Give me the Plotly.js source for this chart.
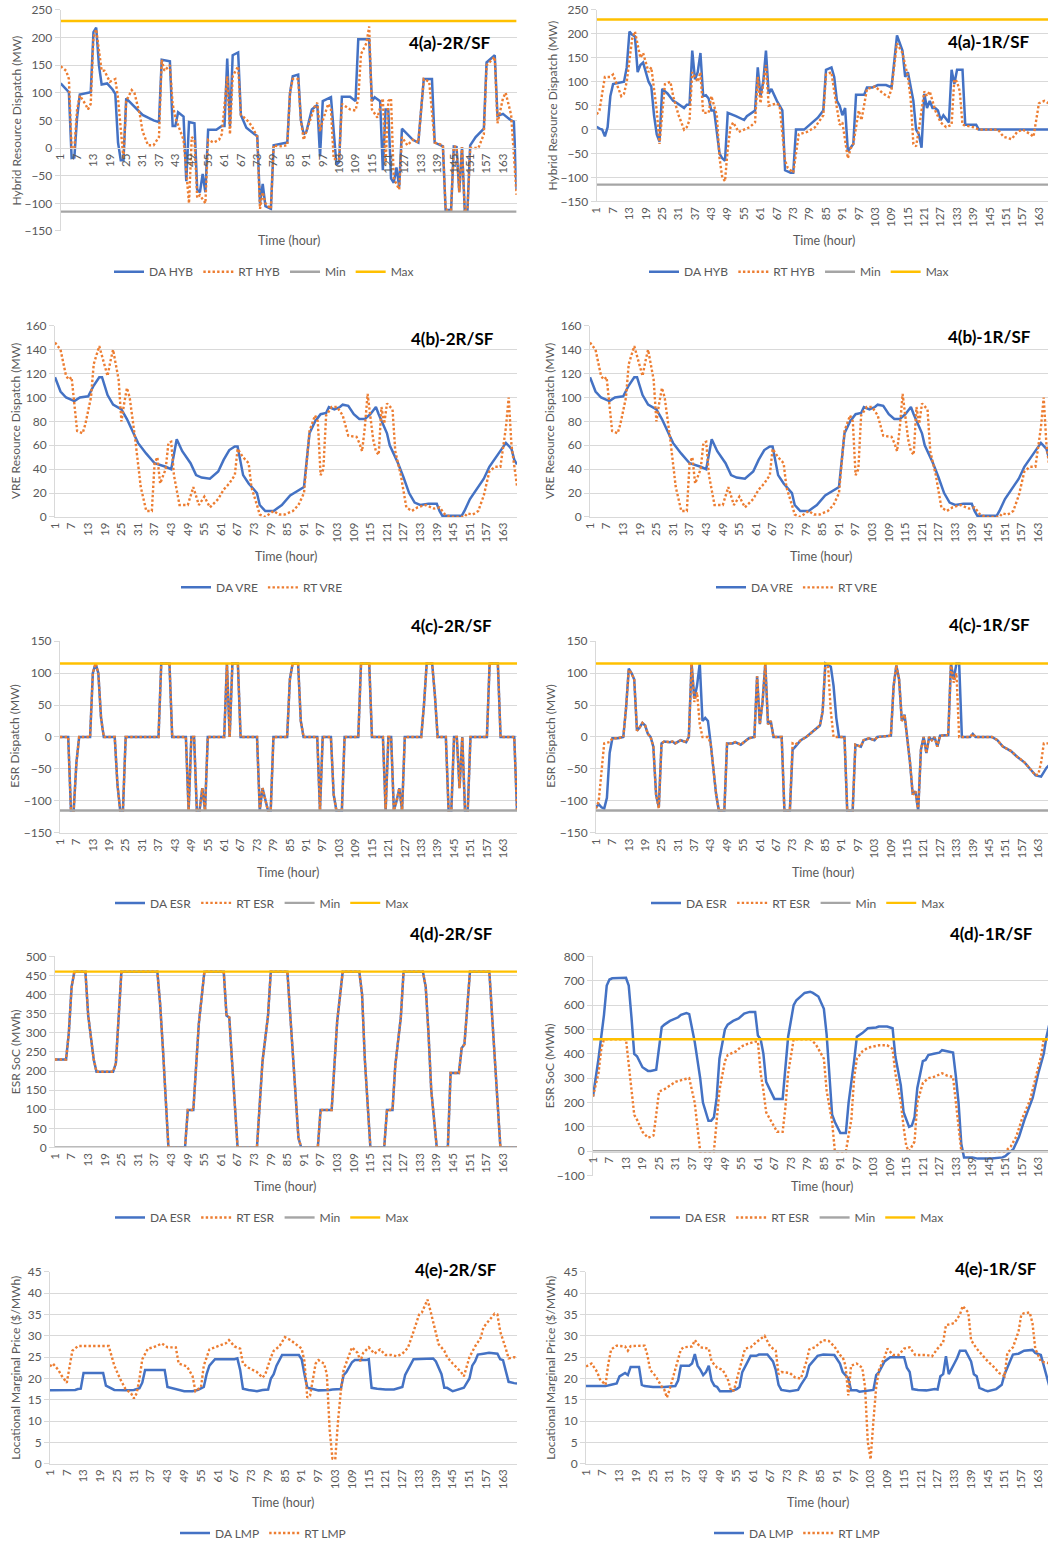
<!DOCTYPE html>
<html>
<head>
<meta charset="utf-8">
<script src="https://cdn.plot.ly/plotly-3.0.1.min.js"></script>
<style>
  html, body { margin: 0; padding: 0; overflow: hidden; background: #ffffff; }
  #chart { width: 1060px; height: 1548px; }
</style>
</head>
<body>
<div id="chart"></div>
<script>
// Hourly dispatch results over one week (hours 1..168), [hour, value] pairs.
const hourTicks = [1,7,13,19,25,31,37,43,49,55,61,67,73,79,85,91,97,103,109,115,121,127,133,139,145,151,157,163];

// Resource limits
const hybMin = -115, hybMax = 230;
const esrMin = -115, esrMax = 115;
const socMin = 0, socMax = 460;

// (a) Hybrid resource dispatch (MW)
const daHyb2R = [[1,117],[4,101],[5,-18],[6,-17],[7,55],[8,97],[12,101],[13,210],[14,218],[15,150],[16,115],[18,117],[20,106],[21,98],[22,10],[23,-22],[24,-22],[25,90],[31,60],[35,50],[37,47],[38,160],[41,157],[42,40],[43,40],[44,65],[46,57],[47,-60],[48,47],[50,45],[51,-75],[52,-80],[53,-47],[54,-80],[55,33],[58,33],[60,40],[61,40],[62,162],[63,40],[64,168],[66,173],[67,60],[69,37],[72,25],[73,22],[74,-100],[75,-65],[76,-105],[78,-110],[79,5],[84,10],[85,100],[86,130],[88,133],[89,50],[90,25],[91,30],[93,70],[95,78],[96,-15],[97,85],[100,92],[102,-30],[103,-25],[104,93],[107,93],[109,85],[110,197],[114,197],[115,85],[116,92],[118,85],[119,-40],[120,70],[121,70],[122,-55],[123,-63],[124,-35],[125,-70],[126,35],[130,15],[132,10],[134,125],[137,125],[138,10],[141,3],[142,-112],[144,-112],[145,3],[146,2],[147,-80],[148,2],[149,-112],[150,-112],[151,5],[153,20],[156,35],[157,155],[160,168],[161,58],[163,62],[166,50],[167,48],[168,-75]];
const rtHyb2R = [[1,148],[3,140],[4,125],[5,0],[6,0],[7,70],[8,95],[10,80],[11,70],[12,80],[13,200],[14,215],[16,140],[17,140],[19,120],[21,125],[22,90],[23,40],[24,-20],[25,85],[27,105],[28,100],[30,60],[31,30],[33,5],[35,5],[37,20],[38,160],[39,140],[41,150],[42,80],[43,55],[45,30],[46,15],[48,-100],[49,20],[50,15],[51,-90],[52,-85],[54,-100],[55,15],[57,10],[59,15],[60,25],[62,130],[63,25],[64,130],[66,148],[67,60],[69,52],[71,40],[73,20],[74,-110],[75,-80],[76,-100],[78,-110],[79,5],[81,3],[84,5],[85,100],[86,125],[88,125],[89,50],[90,15],[91,30],[94,75],[95,82],[96,30],[97,50],[99,80],[100,70],[101,-20],[103,-20],[104,80],[107,70],[109,68],[110,90],[111,170],[113,190],[114,220],[115,70],[117,55],[119,90],[120,-30],[121,85],[122,90],[123,-55],[125,-75],[126,20],[128,5],[130,15],[132,10],[134,125],[136,120],[138,10],[141,5],[142,-112],[144,-112],[145,3],[146,2],[147,-80],[148,2],[149,-112],[150,-112],[151,0],[154,0],[156,25],[157,150],[160,165],[161,45],[163,90],[164,100],[166,60],[168,-85]];
const daHyb1R = [[1,6],[2,2],[3,0],[4,-14],[5,5],[6,70],[7,95],[11,100],[12,130],[13,205],[14,198],[15,195],[16,120],[17,135],[18,140],[20,100],[21,90],[22,30],[23,-10],[24,-25],[25,85],[27,75],[29,60],[30,57],[33,45],[34,52],[35,52],[36,165],[37,105],[38,120],[39,160],[40,70],[41,72],[42,65],[43,40],[44,40],[46,-50],[47,-60],[48,-65],[49,35],[52,28],[55,20],[56,28],[58,35],[59,40],[60,130],[61,70],[62,100],[63,165],[64,75],[65,85],[67,60],[69,40],[70,-85],[72,-90],[73,-90],[74,0],[77,0],[79,10],[82,25],[84,40],[85,125],[87,130],[88,110],[89,60],[90,50],[91,30],[92,45],[93,-45],[95,-30],[96,73],[99,73],[100,88],[102,88],[104,93],[107,93],[109,88],[111,197],[113,165],[114,110],[115,120],[117,60],[118,0],[119,-10],[120,-38],[121,75],[122,45],[123,60],[124,45],[125,45],[126,40],[127,20],[128,30],[130,15],[131,125],[132,95],[133,125],[135,125],[136,10],[140,10],[141,0],[168,0]];
const rtHyb1R = [[1,32],[2,40],[4,110],[6,110],[7,115],[10,70],[11,75],[12,100],[14,190],[15,205],[17,150],[18,160],[20,120],[21,130],[23,40],[24,-30],[26,95],[28,100],[29,70],[31,30],[33,0],[34,5],[35,20],[36,120],[38,100],[39,120],[40,35],[42,35],[43,70],[45,30],[46,-60],[47,-100],[48,-108],[49,-40],[50,5],[51,15],[53,-5],[55,0],[57,5],[59,15],[60,110],[61,55],[63,135],[64,50],[67,55],[68,50],[70,-65],[71,-80],[73,-90],[75,-10],[78,-5],[81,5],[83,20],[84,30],[85,115],[87,120],[88,80],[90,10],[91,15],[93,-60],[94,-40],[95,-30],[97,40],[98,20],[100,85],[103,90],[106,75],[108,68],[109,85],[111,180],[113,160],[115,110],[116,65],[117,-30],[118,-35],[119,0],[121,80],[122,70],[123,80],[125,40],[127,15],[129,5],[131,10],[132,105],[133,100],[134,80],[135,10],[139,5],[141,0],[148,0],[150,-15],[153,-20],[155,-5],[157,0],[160,-10],[161,-15],[163,55],[165,60],[168,50]];

// (b) VRE dispatch (MW), identical in both configurations
const daVre = [[1,117],[3,105],[5,100],[8,97],[10,100],[13,101],[15,110],[17,117],[18,117],[20,102],[22,94],[25,90],[27,82],[29,72],[31,62],[34,53],[37,45],[41,42],[43,40],[45,65],[47,55],[50,45],[52,35],[54,33],[57,32],[60,38],[62,48],[64,56],[66,59],[67,59],[69,35],[71,28],[74,20],[75,10],[77,5],[80,5],[83,10],[86,18],[89,22],[91,25],[93,70],[95,80],[97,86],[99,87],[100,92],[102,90],[104,92],[105,94],[107,93],[109,86],[111,82],[113,82],[115,86],[117,92],[118,86],[121,70],[122,60],[125,45],[127,33],[129,20],[131,12],[133,10],[136,11],[139,11],[140,5],[141,1],[148,1],[149,5],[151,15],[154,25],[156,32],[158,42],[161,52],[164,62],[166,57],[167,48],[168,44]];
const rtVre = [[1,146],[3,140],[5,118],[6,115],[7,117],[8,95],[9,72],[11,70],[12,78],[14,100],[15,128],[17,143],[19,125],[20,118],[21,130],[22,140],[24,115],[25,80],[26,95],[27,108],[28,100],[30,65],[32,25],[34,5],[36,5],[37,45],[38,50],[39,28],[41,40],[42,62],[43,63],[44,35],[46,10],[49,10],[51,25],[53,10],[55,17],[57,8],[60,15],[62,23],[64,28],[66,35],[67,57],[69,50],[71,45],[72,25],[74,10],[75,2],[77,0],[80,5],[82,2],[84,2],[87,5],[89,10],[91,20],[93,72],[95,85],[96,80],[97,35],[98,40],[99,85],[101,92],[103,92],[105,85],[107,68],[110,67],[111,62],[112,55],[113,75],[114,103],[116,65],[117,55],[118,52],[119,92],[120,78],[121,95],[123,90],[124,55],[126,35],[128,8],[130,5],[132,8],[135,10],[138,7],[140,8],[142,2],[144,0],[149,0],[150,3],[152,2],[154,5],[156,18],[158,38],[160,42],[162,42],[164,75],[165,100],[166,60],[168,26]];

// (c) ESR dispatch (MW)
const daEsr2R = [[1,0],[4,0],[5,-115],[6,-115],[7,-40],[8,0],[12,0],[13,100],[14,115],[15,100],[16,30],[17,0],[21,0],[22,-75],[23,-115],[24,-115],[25,0],[37,0],[38,115],[41,115],[42,0],[47,0],[48,-115],[49,0],[50,0],[51,-115],[52,-115],[53,-80],[54,-115],[55,0],[61,0],[62,115],[63,0],[64,115],[66,115],[67,0],[73,0],[74,-115],[75,-80],[76,-100],[77,-115],[78,-115],[79,0],[84,0],[85,90],[86,115],[88,115],[89,25],[90,0],[95,0],[96,-115],[97,0],[100,0],[101,-90],[102,-115],[104,-115],[105,0],[110,0],[111,115],[114,115],[115,0],[119,0],[120,-115],[121,0],[122,0],[123,-115],[124,-100],[125,-80],[126,-115],[127,0],[133,0],[134,50],[135,115],[137,115],[138,65],[139,0],[142,0],[143,-115],[144,-115],[145,0],[146,0],[147,-80],[148,0],[149,-115],[150,-115],[151,0],[157,0],[158,115],[161,115],[162,0],[167,0],[168,-115]];
const rtEsr2R = daEsr2R;
const daEsr1R = [[1,-110],[2,-105],[3,-110],[4,-112],[5,-95],[6,-25],[7,-2],[9,-2],[11,0],[12,45],[13,107],[14,100],[15,90],[16,10],[17,15],[18,22],[19,18],[20,5],[21,0],[22,-15],[23,-90],[24,-110],[25,-10],[26,-7],[28,-8],[29,-7],[30,-10],[32,-5],[34,-8],[35,0],[36,115],[37,60],[38,80],[39,115],[40,25],[41,30],[42,25],[43,-10],[45,-90],[46,-115],[48,-115],[49,-10],[51,-10],[52,-8],[54,-12],[56,-5],[57,-2],[59,0],[60,95],[61,20],[62,55],[63,115],[64,20],[65,25],[66,0],[69,0],[70,-115],[72,-115],[73,-20],[74,-15],[76,-5],[78,0],[81,10],[83,18],[84,40],[85,115],[87,110],[88,80],[89,30],[90,0],[92,0],[93,-115],[95,-115],[96,-12],[98,-15],[99,-5],[101,-2],[103,-5],[104,0],[109,2],[110,80],[111,112],[112,90],[113,25],[114,35],[116,-40],[117,-90],[118,-85],[119,-115],[120,-20],[121,0],[122,-25],[123,0],[124,-5],[125,0],[126,-15],[127,2],[130,3],[131,115],[132,90],[133,115],[134,115],[135,0],[138,0],[139,5],[140,0],[146,0],[148,-5],[150,-15],[153,-22],[155,-30],[158,-40],[160,-50],[162,-60],[164,-62],[165,-55],[166,-48],[168,-40]];
const rtEsr1R = [[1,-112],[2,-100],[3,-55],[4,-10],[6,-8],[7,-2],[9,-2],[11,0],[12,45],[13,105],[14,100],[15,90],[16,10],[17,15],[18,22],[19,18],[20,5],[21,0],[22,-15],[23,-90],[24,-112],[25,-10],[26,-7],[28,-8],[29,-7],[30,-10],[32,-5],[34,-8],[35,0],[36,115],[37,55],[38,70],[39,20],[40,0],[42,0],[43,-10],[45,-90],[46,-115],[48,-115],[49,-10],[51,-10],[52,-8],[54,-12],[56,-5],[57,-2],[59,0],[60,95],[61,20],[62,55],[63,115],[64,20],[65,25],[66,0],[69,0],[70,-115],[72,-115],[73,-10],[74,-12],[76,-5],[78,0],[81,10],[83,18],[84,40],[85,115],[86,110],[87,40],[88,0],[92,0],[93,-115],[95,-115],[96,-12],[98,-15],[99,-5],[101,-2],[103,-5],[104,0],[109,2],[110,80],[111,112],[112,90],[113,25],[114,35],[116,-40],[117,-90],[118,-85],[119,-115],[120,-20],[121,0],[122,-25],[123,0],[124,-5],[125,0],[126,-15],[127,2],[130,3],[131,115],[132,85],[133,100],[134,0],[138,0],[139,5],[140,0],[146,0],[148,-5],[150,-15],[153,-22],[155,-30],[158,-40],[160,-50],[162,-60],[163,-58],[164,-40],[165,-10],[168,-10]];

// (d) ESR state of charge (MWh)
const daSoc2R = [[1,230],[5,230],[6,300],[7,420],[8,460],[12,460],[13,345],[15,230],[16,198],[22,198],[23,220],[24,330],[25,460],[38,460],[39,375],[40,260],[41,145],[42,0],[48,0],[49,98],[51,98],[52,210],[53,325],[55,460],[62,460],[63,345],[64,340],[65,225],[66,110],[67,0],[74,0],[75,110],[76,225],[78,345],[79,460],[85,460],[86,345],[87,230],[88,115],[89,25],[90,0],[96,0],[97,98],[101,98],[102,215],[103,330],[105,460],[111,460],[112,400],[113,230],[114,115],[115,0],[120,0],[121,98],[123,98],[124,215],[126,340],[127,460],[134,460],[135,420],[136,300],[137,150],[139,0],[143,0],[144,195],[147,195],[148,260],[149,270],[151,460],[158,460],[159,345],[160,230],[162,0],[168,0]];
const rtSoc2R = daSoc2R;
const daSoc1R = [[1,225],[3,380],[5,560],[6,680],[7,705],[8,710],[13,712],[14,680],[15,550],[16,400],[17,390],[18,370],[19,345],[21,330],[22,330],[24,335],[25,420],[26,510],[27,520],[29,535],[32,550],[33,560],[35,567],[36,563],[38,450],[39,380],[40,300],[41,200],[42,160],[43,125],[44,125],[45,140],[46,220],[47,380],[49,500],[50,520],[52,535],[54,545],[56,565],[58,572],[60,572],[61,475],[62,460],[63,400],[64,285],[65,260],[66,240],[67,215],[70,215],[71,330],[72,470],[74,600],[75,620],[77,640],[78,650],[80,655],[81,650],[83,635],[84,610],[85,585],[86,480],[87,310],[88,150],[89,120],[91,75],[93,75],[94,200],[96,370],[97,470],[99,485],[101,505],[104,508],[105,512],[108,512],[110,505],[111,390],[113,270],[114,160],[115,130],[116,100],[117,105],[118,140],[119,260],[121,370],[122,375],[123,395],[125,400],[127,405],[128,415],[130,410],[132,405],[133,310],[134,200],[135,30],[136,-25],[139,-25],[141,-30],[146,-30],[150,-25],[151,-20],[154,10],[156,60],[158,130],[161,220],[163,320],[165,400],[166,470],[167,520],[168,560]];
const rtSoc1R = [[1,225],[3,320],[4,420],[5,460],[13,460],[14,360],[15,250],[16,150],[17,130],[19,80],[21,55],[23,65],[24,150],[25,245],[27,255],[29,270],[31,285],[34,295],[36,300],[38,200],[39,100],[40,0],[45,0],[46,110],[47,250],[49,370],[50,395],[53,410],[55,430],[57,440],[60,450],[61,450],[62,320],[63,250],[64,160],[66,120],[68,80],[70,80],[71,180],[72,320],[74,460],[80,460],[82,440],[83,420],[85,380],[86,250],[88,120],[89,0],[93,0],[95,130],[96,300],[97,380],[99,410],[101,425],[105,435],[108,435],[110,420],[111,320],[113,200],[114,100],[115,20],[116,0],[118,40],[119,200],[121,280],[123,300],[125,305],[128,320],[130,310],[132,305],[133,200],[135,0],[151,0],[153,20],[155,60],[157,130],[160,210],[162,300],[164,390],[165,460],[168,460]];

// (e) Locational marginal price ($/MWh)
const daLmp2R = [[1,17.2],[10,17.3],[11,17.5],[12,17.6],[13,21.3],[20,21.3],[21,18.3],[22,18],[24,17.3],[28,17.2],[31,17.3],[33,17.7],[34,19],[35,22],[42,22],[43,18],[45,17.7],[48,17.2],[49,17],[52,17],[54,17.3],[56,18],[57,21],[58,23],[60,24.5],[67,24.5],[68,24.7],[69,22],[70,17.6],[72,17.3],[74,17],[75,17],[77,17.3],[79,17.4],[80,20],[81,21],[82,23],[84,25.5],[90,25.5],[91,24.5],[92,21],[93,17.8],[95,17.5],[97,17.2],[101,17.3],[102,17.4],[105,17.5],[106,20.8],[107,21.5],[109,23.8],[110,24.3],[114,24.3],[115,24.5],[116,17.8],[118,17.6],[121,17.4],[124,17.4],[126,17.8],[127,18],[128,20.8],[129,22],[131,24.5],[138,24.7],[139,24],[141,21],[142,17.8],[143,17.8],[145,17],[146,17.2],[148,17.5],[149,17.8],[151,20],[152,23],[153,24],[154,25.6],[156,25.8],[158,26],[161,25.8],[162,24.5],[163,24.3],[164,22],[165,19.2],[167,18.9],[168,18.8]];
const rtLmp2R = [[1,22.8],[2,23.5],[4,22],[5,20.8],[7,19],[8,23],[9,26.5],[11,27.6],[22,27.6],[24,23],[26,20],[28,17.5],[30,16.5],[31,15.3],[32,16.5],[33,20],[34,24.5],[36,27],[38,27.3],[41,28.2],[43,27.3],[46,27.3],[47,23.5],[50,22.8],[52,20.5],[53,17],[55,18],[56,23],[58,26.8],[60,27.3],[62,27.8],[64,28.3],[65,29],[67,27.5],[69,27],[70,23.5],[72,22.5],[75,21.5],[77,20.2],[78,21],[80,25],[81,26.5],[83,27.5],[85,29.7],[87,29],[89,28],[91,27],[92,24],[93,15.5],[94,16],[96,23.5],[97,24.3],[99,23.5],[100,21],[101,8],[102,1.2],[103,1],[104,10],[105,17],[106,22],[108,25.5],[109,27.3],[111,26],[112,24],[113,26],[115,27.3],[117,25.8],[119,26.8],[121,25.5],[123,25.5],[125,25.2],[127,25.8],[128,26.5],[129,27.2],[131,31],[133,35],[134,35.5],[136,38.5],[137,36],[139,31],[140,28],[142,26.5],[143,25],[145,23.5],[148,21.5],[149,20.5],[151,25],[153,27.5],[155,29.5],[156,32],[158,33.5],[160,35.2],[161,35],[162,31],[164,27],[165,24.7],[167,25],[168,24.8]];
const daLmp1R = [[1,18.2],[8,18.2],[10,18.5],[12,18.8],[13,20.5],[14,21],[15,21.3],[16,20.8],[17,22.7],[20,22.7],[21,18.5],[22,18.2],[25,18],[29,18],[33,18.2],[34,19.5],[35,23],[38,23],[39,23.5],[40,25.7],[41,23],[42,22],[43,20.8],[44,21.5],[45,23],[46,19.5],[47,18.3],[48,18],[49,17],[53,17],[55,17.5],[56,18],[57,21.5],[59,24],[60,25.3],[62,25.3],[63,25.6],[66,25.6],[67,24.7],[68,24],[69,22],[70,18.5],[71,17.3],[74,17],[77,17.3],[78,18.5],[80,20.5],[81,23],[84,25.3],[86,25.6],[90,25.5],[92,23.5],[93,21.5],[95,20],[96,17.2],[98,17.2],[99,16.9],[102,17.2],[104,17.3],[105,20.8],[106,21.5],[108,24],[110,25],[115,25],[116,22.5],[117,21.5],[118,17.5],[120,17.3],[123,17.2],[126,17.5],[127,17.4],[128,20.5],[129,21],[130,25.2],[131,21],[133,23.5],[134,24.8],[135,26.5],[137,26.5],[139,24],[140,21],[141,20.5],[142,17.8],[144,17.2],[145,17],[148,17.5],[150,18.5],[151,21],[153,24],[154,25.6],[156,25.8],[158,26.5],[161,26.7],[162,26],[164,25.5],[165,23],[166,21],[167,18.3],[168,18]];
const rtLmp1R = [[1,22.8],[3,23.5],[5,21.5],[6,19.8],[8,18.5],[9,23.5],[10,26.8],[12,27.7],[15,27.5],[16,26.5],[17,27.6],[22,27.7],[23,25.5],[24,22],[26,20.5],[28,18.2],[29,17.5],[30,15.5],[31,17.5],[33,22],[35,26.8],[36,27.3],[39,27.5],[40,29],[42,27.3],[45,27],[46,24],[48,22.5],[50,22],[52,19.5],[53,17],[54,17.2],[56,22],[58,27],[60,27.3],[62,28.5],[65,30],[67,27.5],[69,26.5],[70,21],[71,21.5],[74,21.3],[76,20.2],[78,20],[80,24],[81,26.8],[83,27.3],[86,29],[88,28.8],[90,27.5],[92,25.5],[93,25],[94,23],[95,16],[96,23],[98,23.5],[100,22.5],[101,18],[102,5],[103,1],[104,10],[105,18],[106,22],[108,25],[109,27],[111,25.5],[113,25.5],[115,27],[117,27.3],[119,25.5],[121,25.5],[123,25.5],[125,25.2],[127,27],[129,28.5],[130,32.5],[132,32.8],[133,33],[135,35],[136,37],[138,35.5],[139,29],[141,27],[143,25.5],[145,24],[147,22.8],[149,21.3],[151,20.5],[152,26],[154,27.3],[156,31],[157,35],[158,35.3],[160,35.5],[161,33],[162,27],[164,24],[166,23.7],[168,23.5]];

// ---- drawing ----
const W = 1060, H = 1548;
const fx = v => v / W;
const fy = v => 1 - v / H;
const BLUE = '#4472C4', ORANGE = '#ED7D31', GREY = '#A5A5A5', GOLD = '#FFC000';
const GRID = '#d9d9d9', TXT = '#595959';
const FONT = 'Lato, "Open Sans", sans-serif';
const DOTS = '2.4px,2.2px';

const panels = [
  { label: '4(a)-2R/SF', ytitle: 'Hybrid Resource Dispatch (MW)', names: ['DA HYB', 'RT HYB'], da: daHyb2R, rt: rtHyb2R, lim: [hybMin, hybMax],
    yr: [-150, 250], dt: 50, box: [60.7, 516.6, 10, 232], axisAtZero: true, leg: [264, 273], lab: [450, 43], yt: [16, 121], xt: [289, 242] },
  { label: '4(a)-1R/SF', ytitle: 'Hybrid Resource Dispatch (MW)', names: ['DA HYB', 'RT HYB'], da: daHyb1R, rt: rtHyb1R, lim: [hybMin, hybMax],
    yr: [-150, 250], dt: 50, box: [596.7, 1052.6, 10, 202.3], leg: [799, 273], lab: [989, 42], yt: [553, 106], xt: [824, 242] },
  { label: '4(b)-2R/SF', ytitle: 'VRE Resource Dispatch (MW)', names: ['DA VRE', 'RT VRE'], da: daVre, rt: rtVre,
    yr: [0, 160], dt: 20, box: [55, 517, 327.3, 519.3], leg: [262, 590], lab: [452, 340], yt: [15, 423], xt: [286, 559] },
  { label: '4(b)-1R/SF', ytitle: 'VRE Resource Dispatch (MW)', names: ['DA VRE', 'RT VRE'], da: daVre, rt: rtVre,
    yr: [0, 160], dt: 20, box: [590, 1052, 327.3, 519.3], leg: [797, 590], lab: [989, 338], yt: [549, 423], xt: [821, 559] },
  { label: '4(c)-2R/SF', ytitle: 'ESR Dispatch (MW)', names: ['DA ESR', 'RT ESR'], da: daEsr2R, rt: rtEsr2R, lim: [esrMin, esrMax],
    yr: [-150, 150], dt: 50, box: [60, 517, 644, 836.7], leg: [262, 907], lab: [451, 628], yt: [15, 740], xt: [288, 876] },
  { label: '4(c)-1R/SF', ytitle: 'ESR Dispatch (MW)', names: ['DA ESR', 'RT ESR'], da: daEsr1R, rt: rtEsr1R, lim: [esrMin, esrMax],
    yr: [-150, 150], dt: 50, box: [596, 1052, 644, 836.7], leg: [798, 907], lab: [989, 627], yt: [551, 740], xt: [823, 876] },
  { label: '4(d)-2R/SF', ytitle: 'ESR SoC (MWh)', names: ['DA ESR', 'RT ESR'], da: daSoc2R, rt: rtSoc2R, lim: [socMin, socMax],
    yr: [0, 500], dt: 50, box: [55, 517, 960.7, 1152.7], leg: [262, 1223], lab: [451, 938], yt: [15, 1057], xt: [285, 1192] },
  { label: '4(d)-1R/SF', ytitle: 'ESR SoC (MWh)', names: ['DA ESR', 'RT ESR'], da: daSoc1R, rt: rtSoc1R, lim: [socMin, socMax],
    yr: [-100, 800], dt: 100, box: [593, 1052, 960.7, 1181], axisAtZero: true, leg: [797, 1223], lab: [991, 938], yt: [549, 1071], xt: [822, 1192] },
  { label: '4(e)-2R/SF', ytitle: 'Locational Marginal Price ($/MWh)', names: ['DA LMP', 'RT LMP'], da: daLmp2R, rt: rtLmp2R,
    yr: [0, 45], dt: 5, box: [50, 517, 1277.7, 1470.3], leg: [263, 1540], lab: [456, 1275], yt: [16, 1374], xt: [283, 1509] },
  { label: '4(e)-1R/SF', ytitle: 'Locational Marginal Price ($/MWh)', names: ['DA LMP', 'RT LMP'], da: daLmp1R, rt: rtLmp1R,
    yr: [0, 45], dt: 5, box: [586, 1052, 1277.7, 1470.3], leg: [797, 1540], lab: [996, 1274], yt: [551, 1374], xt: [818, 1509] }
];

const xs = arr => arr.map(d => d[0]);
const ys = arr => arr.map(d => d[1]);

const traces = [];
const annotations = [];
const layout = {
  width: W, height: H,
  margin: { l: 0, r: 0, t: 0, b: 0 },
  paper_bgcolor: '#ffffff', plot_bgcolor: '#ffffff',
  font: { family: FONT, size: 12, color: TXT },
  showlegend: true,
  annotations: annotations
};

const yTickFont = { family: FONT, size: 12, color: TXT };
const xTickFont = { family: FONT, size: 11.5, color: TXT };

panels.forEach((p, i) => {
  const s = i === 0 ? '' : String(i + 1);
  const xa = 'x' + s, ya = 'y' + s, lg = 'legend' + s;
  const [x0, x1, yTop, yBot] = p.box;
  const common = { xaxis: xa, yaxis: ya, legend: lg, mode: 'lines', hoverinfo: 'skip' };

  traces.push(Object.assign({ name: p.names[0], x: xs(p.da), y: ys(p.da), line: { color: BLUE, width: 2.5 } }, common));
  traces.push(Object.assign({ name: p.names[1], x: xs(p.rt), y: ys(p.rt), line: { color: ORANGE, width: 2.4, dash: DOTS } }, common));
  if (p.lim) {
    traces.push(Object.assign({ name: 'Min', x: [1, 168], y: [p.lim[0], p.lim[0]], line: { color: GREY, width: 2.4 } }, common));
    traces.push(Object.assign({ name: 'Max', x: [1, 168], y: [p.lim[1], p.lim[1]], line: { color: GOLD, width: 2.4 } }, common));
  }

  const xaxis = {
    domain: [fx(x0), fx(x1)], range: [1, 168], fixedrange: true,
    tickmode: 'array', tickvals: hourTicks, ticktext: hourTicks.map(String),
    tickangle: -90, tickfont: xTickFont, ticks: '',
    showgrid: false, zeroline: false, showline: true, linecolor: GRID, linewidth: 1
  };
  if (p.axisAtZero) {
    const zeroPx = yBot - (0 - p.yr[0]) / (p.yr[1] - p.yr[0]) * (yBot - yTop);
    xaxis.anchor = 'free';
    xaxis.position = fy(zeroPx);
  } else {
    xaxis.anchor = ya;
  }
  layout['xaxis' + s] = xaxis;

  layout['yaxis' + s] = {
    domain: [fy(yBot), fy(yTop)], range: p.yr, dtick: p.dt, tick0: 0, fixedrange: true,
    anchor: xa, tickfont: yTickFont,
    showgrid: true, gridcolor: GRID, gridwidth: 1, zeroline: false,
    showline: true, linecolor: GRID, linewidth: 1,
    ticks: 'outside', ticklen: 5, tickcolor: GRID
  };

  layout[lg] = {
    orientation: 'h', x: fx(p.leg[0]), xanchor: 'center', y: fy(p.leg[1]), yanchor: 'middle',
    font: { family: FONT, size: 12, color: TXT }, bgcolor: 'rgba(0,0,0,0)', itemwidth: 30, traceorder: 'normal'
  };

  annotations.push({ text: p.label, xref: 'paper', yref: 'paper', x: fx(p.lab[0]), y: fy(p.lab[1]),
    xanchor: 'center', yanchor: 'middle', showarrow: false,
    font: { family: FONT, size: 17, color: '#000000', weight: 'bold' } });
  annotations.push({ text: p.ytitle, xref: 'paper', yref: 'paper', x: fx(p.yt[0]), y: fy(p.yt[1]),
    xanchor: 'center', yanchor: 'middle', textangle: -90, showarrow: false,
    font: { family: FONT, size: 12, color: TXT } });
  annotations.push({ text: 'Time (hour)', xref: 'paper', yref: 'paper', x: fx(p.xt[0]), y: fy(p.xt[1]),
    xanchor: 'center', yanchor: 'middle', showarrow: false,
    font: { family: FONT, size: 12.5, color: TXT } });
});

Plotly.newPlot('chart', traces, layout, { staticPlot: true, displayModeBar: false });
</script>
</body>
</html>
